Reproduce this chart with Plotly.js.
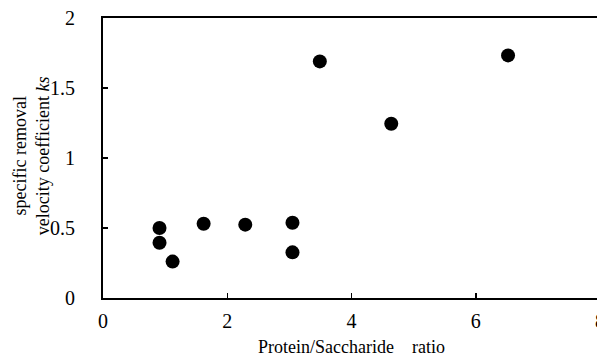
<!DOCTYPE html>
<html>
<head>
<meta charset="utf-8">
<script src="https://cdn.plot.ly/plotly-3.0.1.min.js"></script>
<style>
html,body{margin:0;padding:0;overflow:hidden;background:#fff;}
#chart{width:610px;height:357px;}
</style>
</head>
<body>
<div id="chart"></div>
<script>
const ratio = [0.91, 0.91, 1.12, 1.62, 2.29, 3.05, 3.05, 3.49, 4.64, 6.52];
const ks    = [0.50, 0.395, 0.26, 0.53, 0.524, 0.538, 0.326, 1.69, 1.245, 1.733];
const xTicks = [0, 2, 4, 6, 8];
const yTicks = [0, 0.5, 1, 1.5, 2];
const xLabel = 'Protein/Saccharide&nbsp;&nbsp;&nbsp; ratio';
const yLabel = 'specific removal<br>velocity coefficient <i>ks</i>';

const fam = '"Liberation Serif", "Times New Roman", serif';

Plotly.newPlot('chart', [{
  x: ratio, y: ks, type: 'scatter', mode: 'markers',
  marker: {color: '#000', size: 14, line: {width: 0}},
  hoverinfo: 'skip'
}], {
  width: 610, height: 357,
  margin: {l: 103, r: 10, t: 18, b: 59},
  paper_bgcolor: '#fff', plot_bgcolor: '#fff',
  showlegend: false,
  font: {family: fam, color: '#000', size: 20},
  xaxis: {
    range: [0, 8], tickvals: xTicks, ticktext: xTicks.map(String),
    showgrid: false, zeroline: false,
    showline: true, linecolor: '#000', linewidth: 2, mirror: true,
    ticks: 'inside', ticklen: 5, tickwidth: 1.5, tickcolor: '#000',
    ticklabelstandoff: 4,
    tickfont: {family: fam, size: 20, color: '#000'},
    title: {text: xLabel, font: {family: fam, size: 18, color: '#000'}, standoff: 11}
  },
  yaxis: {
    range: [0, 2], tickvals: yTicks, ticktext: yTicks.map(String),
    showgrid: false, zeroline: false,
    showline: true, linecolor: '#000', linewidth: 2, mirror: true,
    ticks: 'inside', ticklen: 5, tickwidth: 1.5, tickcolor: '#000',
    ticklabelstandoff: 22,
    tickfont: {family: fam, size: 20, color: '#000'}
  },
  annotations: [{
    text: yLabel, xref: 'paper', yref: 'paper',
    x: -0.145, y: 0.51, xanchor: 'center', yanchor: 'middle',
    textangle: -90, showarrow: false,
    font: {family: fam, size: 18, color: '#000'}
  }]
}, {displayModeBar: false, staticPlot: true});
</script>
</body>
</html>
